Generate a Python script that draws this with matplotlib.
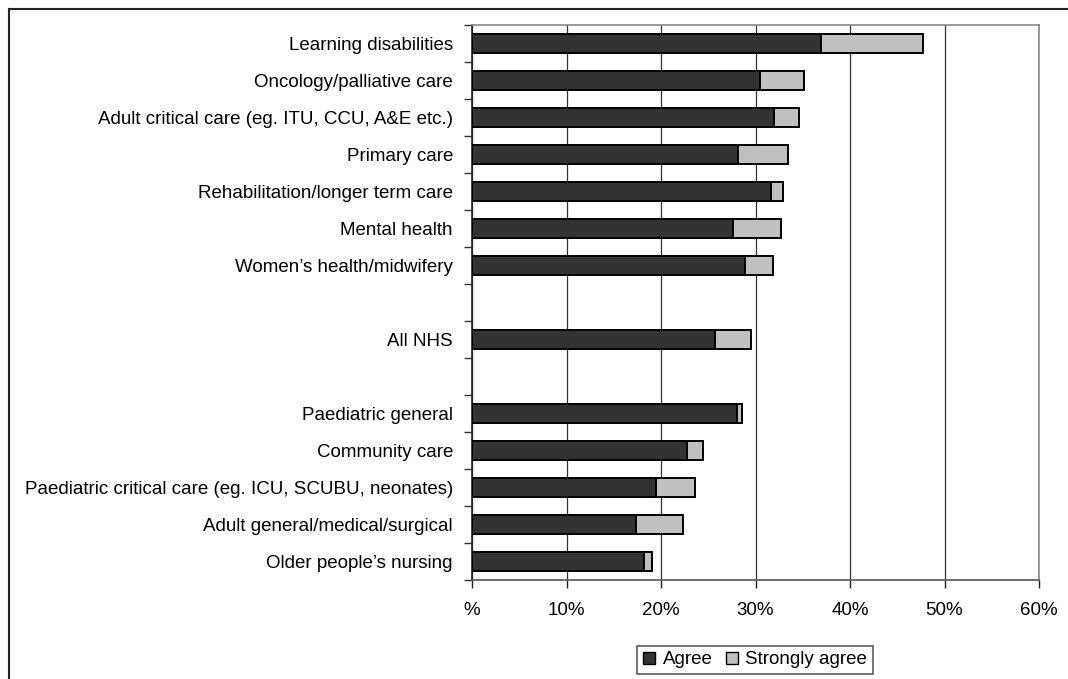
import matplotlib
matplotlib.use("Agg")
import matplotlib.pyplot as plt
from matplotlib.lines import Line2D
from matplotlib.patches import Patch
import numpy as np

plt.rcParams['font.family'] = ['Liberation Sans', 'DejaVu Sans']

categories = [
    "Learning disabilities",
    "Oncology/palliative care",
    "Adult critical care (eg. ITU, CCU, A&E etc.)",
    "Primary care",
    "Rehabilitation/longer term care",
    "Mental health",
    "Women\u2019s health/midwifery",
    "",
    "All NHS",
    "",
    "Paediatric general",
    "Community care",
    "Paediatric critical care (eg. ICU, SCUBU, neonates)",
    "Adult general/medical/surgical",
    "Older people\u2019s nursing",
]
agree = [36.9, 30.5, 32.0, 28.2, 31.6, 27.6, 28.9, 0, 25.7, 0, 28.0, 22.8, 19.5, 17.4, 18.2]
strongly_agree = [10.8, 4.6, 2.6, 5.2, 1.3, 5.1, 2.9, 0, 3.8, 0, 0.6, 1.6, 4.1, 4.9, 0.8]
xtick_values = [0, 10, 20, 30, 40, 50, 60]
xtick_labels = ["%", "10%", "20%", "30%", "40%", "50%", "60%"]

FS = 13.5

fig = plt.figure(figsize=(10.68, 6.79), dpi=100)
ax = fig.add_axes([472/1068, 1-580/679, (1039-472)/1068, (580-24.7)/679])

n = len(categories)
y = np.arange(n)
mask = np.array([c != "" for c in categories])
a = np.array(agree); s = np.array(strongly_agree)
h = 0.52
ax.barh(y[mask], a[mask], height=h, color='#333333', edgecolor='black', linewidth=1.4, label='Agree', zorder=3)
ax.barh(y[mask], s[mask], left=a[mask], height=h, color='#C0C0C0', edgecolor='black', linewidth=1.4, label='Strongly agree', zorder=3)

ax.set_ylim(n - 0.5, -0.5)
ax.set_xlim(0, 60)
ax.set_yticks(y)
ax.set_yticklabels(categories, fontsize=FS)
ax.set_yticks(np.arange(n + 1) - 0.5, minor=True)
ax.tick_params(axis='y', which='major', length=0, pad=13.7)
ax.tick_params(axis='y', which='minor', length=6, width=1, color='#333333')
ax.set_xticks(xtick_values)
ax.set_xticklabels(xtick_labels, fontsize=FS)
ax.tick_params(axis='x', which='major', length=6, width=1, color='#222222', pad=9.5)

ax.grid(axis='x', color='#333333', linewidth=0.9, zorder=0)
ax.set_axisbelow(True)
for side in ['top', 'right']:
    ax.spines[side].set_color('#888888')
    ax.spines[side].set_linewidth(1.2)
ax.spines['left'].set_color('#222222')
ax.spines['bottom'].set_color('#555555')
ax.spines['left'].set_linewidth(1.2)
ax.spines['bottom'].set_linewidth(1.2)

handles = [Patch(facecolor='#333333', edgecolor='black', linewidth=1.0),
           Patch(facecolor='#C0C0C0', edgecolor='black', linewidth=1.0)]
leg = fig.legend(handles, ['Agree', 'Strongly agree'], loc='center', bbox_to_anchor=(755/1068, 1-660/679),
                 ncol=2, frameon=True, fancybox=False, fontsize=FS, handlelength=0.65, handleheight=0.65,
                 handletextpad=0.4, columnspacing=0.7, borderpad=0.3)
leg.get_frame().set_edgecolor('#333333')
leg.get_frame().set_linewidth(1.2)

# outer chart frame (top and left visible)
fig.add_artist(Line2D([9/1068, 9/1068], [0, 1-9/679], color='#222222', linewidth=1.5, transform=fig.transFigure))
fig.add_artist(Line2D([9/1068, 1], [1-9/679, 1-9/679], color='#222222', linewidth=1.5, transform=fig.transFigure))

fig.savefig("out.png", dpi=100)
